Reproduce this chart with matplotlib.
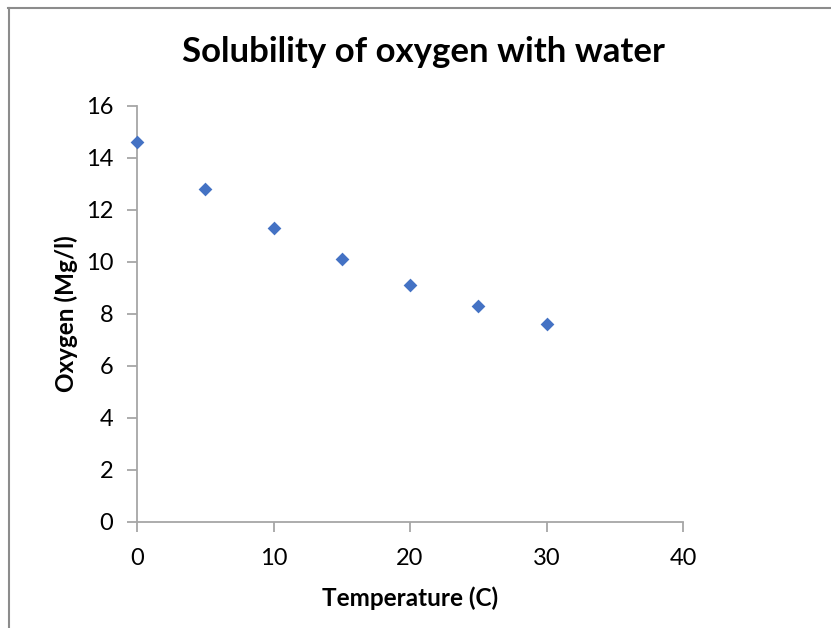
import matplotlib
matplotlib.use("Agg")
import matplotlib.pyplot as plt
from matplotlib.lines import Line2D

temperature = [0, 5, 10, 15, 20, 25, 30]
oxygen = [14.6, 12.8, 11.3, 10.1, 9.1, 8.3, 7.6]
x_ticks = [0, 10, 20, 30, 40]
y_ticks = [0, 2, 4, 6, 8, 10, 12, 14, 16]
title = "Solubility of oxygen with water"
x_label = "Temperature (C)"
y_label = "Oxygen (Mg/l)"

plt.rcParams['font.family'] = ['Lato', 'DejaVu Sans']

fig = plt.figure(figsize=(8.31, 6.28), dpi=100)
ax = fig.add_axes([137/831, 1-522/628, (683-137)/831, (522-106)/628])

ax.scatter(temperature, oxygen, marker='D', s=7.0**2, color='#4472C4', zorder=3, linewidths=0)

ax.set_xlim(0, 40)
ax.set_ylim(0, 16)
ax.set_xticks(x_ticks)
ax.set_yticks(y_ticks)
for s in ['top', 'right']:
    ax.spines[s].set_visible(False)
for s in ['left', 'bottom']:
    ax.spines[s].set_color('#A6A6A6')
    ax.spines[s].set_linewidth(1.3)
ax.tick_params(axis='both', colors='#A6A6A6', length=7, width=1.3, labelsize=17, labelcolor='black')
ax.tick_params(axis='x', pad=12)
ax.tick_params(axis='y', pad=10)

ax.set_xlabel(x_label, fontsize=17.5, fontweight='bold', labelpad=12)
ax.set_ylabel(y_label, fontsize=17.5, fontweight='bold', labelpad=6)
for c in ax.collections:
    c.set_clip_on(False)

fig.text(423/831, 1-52/628, title, ha='center', va='center', fontsize=25, fontweight='bold')

# frame lines (top and left edges of the chart area)
fig.add_artist(Line2D([8/831, 1], [1-7.5/628, 1-7.5/628], transform=fig.transFigure, color='#8C8C8C', lw=1.5))
fig.add_artist(Line2D([8.5/831, 8.5/831], [0, 1-7.5/628], transform=fig.transFigure, color='#8C8C8C', lw=1.5))

fig.savefig("out.png", dpi=100)
